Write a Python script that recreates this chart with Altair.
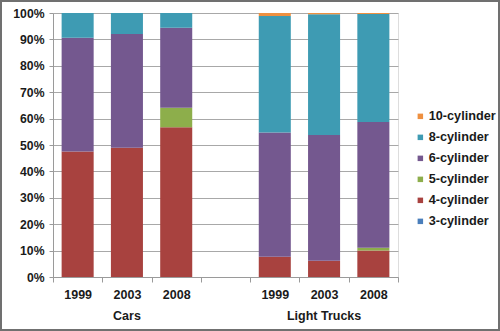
import altair as alt
import pandas as pd

years = ["1999", "2003", "2008", "1999", "2003", "2008"]
fleets = ["Cars", "Cars", "Cars", "Light Trucks", "Light Trucks", "Light Trucks"]
slot_domain = ["C1999", "C2003", "C2008", "gap", "L1999", "L2003", "L2008"]

cyl_names = ["3-cylinder", "4-cylinder", "5-cylinder", "6-cylinder", "8-cylinder", "10-cylinder"]
cyl3 = [0.0, 0.0, 0.0, 0.0, 0.0, 0.0]
cyl4 = [47.5, 49.0, 56.7, 7.7, 6.2, 10.0]
cyl5 = [0.0, 0.0, 7.4, 0.0, 0.0, 1.1]
cyl6 = [43.1, 43.0, 30.3, 47.0, 47.6, 47.6]
cyl8 = [9.4, 8.0, 5.6, 44.2, 45.7, 40.9]
cyl10 = [0.0, 0.0, 0.0, 1.1, 0.5, 0.4]
series = [cyl3, cyl4, cyl5, cyl6, cyl8, cyl10]
colors = ["#4A7EBB", "#A8423F", "#8DAE4B", "#74588F", "#3E9BB3", "#EE9040"]

group_labels = ["Cars", "Light Trucks"]
group_slots = ["C2003", "L2003"]

rows = []
for ci, (name, vals) in enumerate(zip(cyl_names, series)):
    for fleet, year, v in zip(fleets, years, vals):
        rows.append({"slot": fleet[0] + year, "cyl": name, "idx": ci, "pct": v})
df = pd.DataFrame(rows)
gdf = pd.DataFrame({"slot": group_slots, "label": group_labels})
fdf = pd.DataFrame({"k": [0]})

W, H = 345, 264
FONT = "Liberation Sans"

xscale = alt.Scale(domain=slot_domain, paddingInner=0, paddingOuter=0)

bars = alt.Chart(df).mark_bar(width=alt.RelativeBandSize(0.65)).encode(
    x=alt.X("slot:N", scale=xscale, sort=slot_domain,
            axis=alt.Axis(title=None, labelAngle=0, tickBand="extent", tickSize=5,
                          labelPadding=6, grid=False, domainColor="#9a9a9a", tickColor="#9a9a9a",
                          labelExpr="datum.label == 'gap' ? '' : substring(datum.label, 1)",
                          labelFont=FONT, labelFontSize=12.5, labelFontWeight="bold",
                          labelColor="#1a1a1a")),
    y=alt.Y("pct:Q", stack="zero", scale=alt.Scale(domain=[0, 100], nice=False),
            axis=alt.Axis(title=None, values=list(range(0, 101, 10)), tickSize=4,
                          labelPadding=5, labelExpr="datum.value + '%'",
                          gridColor="#a8a8a8", domainColor="#9a9a9a", tickColor="#9a9a9a",
                          labelFont=FONT, labelFontSize=12.2, labelFontWeight="bold",
                          labelColor="#1a1a1a")),
    color=alt.Color("cyl:N",
                    scale=alt.Scale(domain=cyl_names[::-1], range=colors[::-1]),
                    legend=alt.Legend(title=None, orient="none", legendX=361, legendY=97,
                                      symbolType="square", symbolSize=30, symbolStrokeWidth=0,
                                      labelFont=FONT, labelFontSize=12.7, labelFontWeight="bold",
                                      labelColor="#1a1a1a", rowPadding=7, labelOffset=2)),
    order=alt.Order("idx:Q", sort="ascending"),
)

groups = alt.Chart(gdf).mark_text(font=FONT, fontSize=12.5, fontWeight="bold",
                                  color="#1a1a1a", baseline="middle").encode(
    x=alt.X("slot:N", scale=xscale, sort=slot_domain),
    y=alt.value(H + 39),
    text="label:N",
)

frame = alt.Chart(fdf).mark_rect(fill=None, stroke="#707070", strokeWidth=2).encode(
    x=alt.value(-52), x2=alt.value(446), y=alt.value(-12), y2=alt.value(317)
)

chart = alt.layer(bars, groups, frame).properties(
    width=W, height=H,
    autosize=alt.AutoSizeParams(type="none"),
    padding={"left": 53, "top": 13, "right": 102, "bottom": 54},
).configure_view(stroke="#9a9a9a").configure(background="white")

chart.save("out.html", embed_options={"renderer": "svg", "actions": False})
